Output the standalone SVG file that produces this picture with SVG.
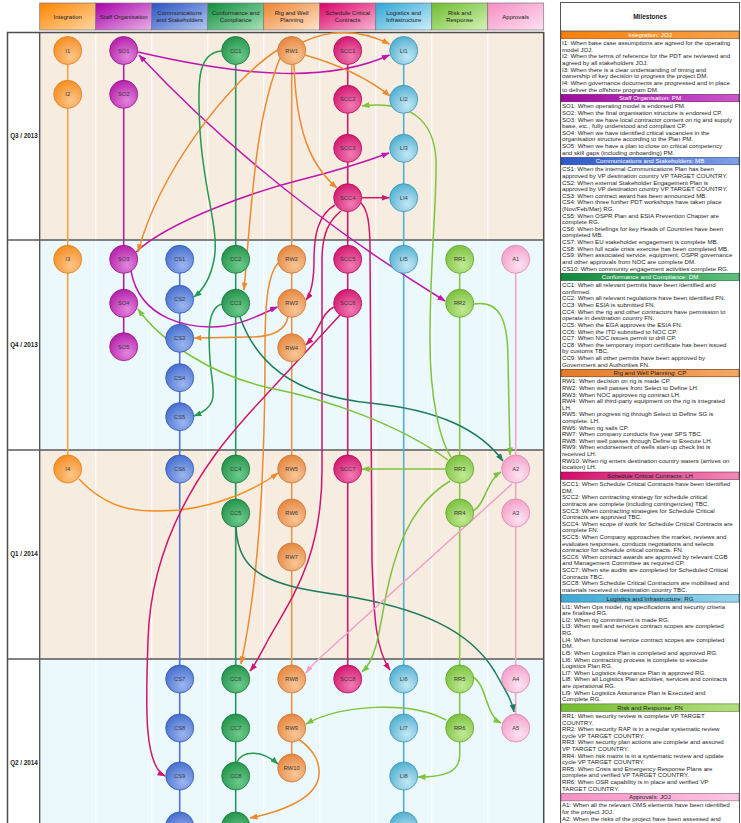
<svg xmlns="http://www.w3.org/2000/svg" width="741" height="823" viewBox="0 0 741 823">
<defs>
<style>
.hd{font-family:"Liberation Sans",Arial,sans-serif;font-size:6px;fill:#222;text-anchor:middle}
.nl{font-family:"Liberation Sans",Arial,sans-serif;font-size:5.8px;fill:#3a3a3a;text-anchor:middle}
.rl{font-family:"Liberation Sans",Arial,sans-serif;font-size:6.3px;font-weight:bold;fill:#222;text-anchor:middle}
.mt{font-family:"Liberation Sans",Arial,sans-serif;font-size:6.15px;fill:#1e1e1e}
.mb{font-family:"Liberation Sans",Arial,sans-serif;font-size:6.2px;text-anchor:middle}
.ttl{font-family:"Liberation Sans",Arial,sans-serif;font-size:6.5px;font-weight:bold;fill:#222;text-anchor:middle}
.n{stroke-width:0.8}
.tl{fill:none;stroke-width:1.6}
.c{fill:none;stroke-width:1.5}
.lane{stroke:#ffffff;stroke-width:1.3;opacity:0.85}
.hb{stroke:#7a7a7a;stroke-width:0.7}
</style>
<linearGradient id="hI" x1="0" y1="0" x2="1" y2="1"><stop offset="0" stop-color="#ff8500"/><stop offset="1" stop-color="#ffd7a6"/></linearGradient>
<linearGradient id="hSO" x1="0" y1="0" x2="1" y2="1"><stop offset="0" stop-color="#a800a8"/><stop offset="1" stop-color="#eab2ea"/></linearGradient>
<linearGradient id="hCS" x1="0" y1="0" x2="1" y2="1"><stop offset="0" stop-color="#2a52c2"/><stop offset="1" stop-color="#b4c8f2"/></linearGradient>
<linearGradient id="hCC" x1="0" y1="0" x2="1" y2="1"><stop offset="0" stop-color="#0e8c3e"/><stop offset="1" stop-color="#a8e2b8"/></linearGradient>
<linearGradient id="hRW" x1="0" y1="0" x2="1" y2="1"><stop offset="0" stop-color="#ee8430"/><stop offset="1" stop-color="#fde3cc"/></linearGradient>
<linearGradient id="hSCC" x1="0" y1="0" x2="1" y2="1"><stop offset="0" stop-color="#dc0068"/><stop offset="1" stop-color="#f8b6d4"/></linearGradient>
<linearGradient id="hLI" x1="0" y1="0" x2="1" y2="1"><stop offset="0" stop-color="#2ea6d6"/><stop offset="1" stop-color="#cdeef9"/></linearGradient>
<linearGradient id="hRR" x1="0" y1="0" x2="1" y2="1"><stop offset="0" stop-color="#6cbc2c"/><stop offset="1" stop-color="#d6f2b8"/></linearGradient>
<linearGradient id="hA" x1="0" y1="0" x2="1" y2="1"><stop offset="0" stop-color="#f68cc4"/><stop offset="1" stop-color="#fde2f0"/></linearGradient>
<linearGradient id="bI" x1="0" y1="0" x2="1" y2="0"><stop offset="0" stop-color="#f7800a"/><stop offset="1" stop-color="#f7a24a"/></linearGradient>
<linearGradient id="bSO" x1="0" y1="0" x2="1" y2="0"><stop offset="0" stop-color="#a00aa0"/><stop offset="1" stop-color="#cc55cc"/></linearGradient>
<linearGradient id="bCS" x1="0" y1="0" x2="1" y2="0"><stop offset="0" stop-color="#2e58c4"/><stop offset="1" stop-color="#7fa0e4"/></linearGradient>
<linearGradient id="bCC" x1="0" y1="0" x2="1" y2="0"><stop offset="0" stop-color="#12893e"/><stop offset="1" stop-color="#5cc07c"/></linearGradient>
<linearGradient id="bRW" x1="0" y1="0" x2="1" y2="0"><stop offset="0" stop-color="#e67a26"/><stop offset="1" stop-color="#f5a866"/></linearGradient>
<linearGradient id="bSCC" x1="0" y1="0" x2="1" y2="0"><stop offset="0" stop-color="#d80a6a"/><stop offset="1" stop-color="#f28ab8"/></linearGradient>
<linearGradient id="bLI" x1="0" y1="0" x2="1" y2="0"><stop offset="0" stop-color="#3aa8d4"/><stop offset="1" stop-color="#9ad6ee"/></linearGradient>
<linearGradient id="bRR" x1="0" y1="0" x2="1" y2="0"><stop offset="0" stop-color="#74bc30"/><stop offset="1" stop-color="#b4e07c"/></linearGradient>
<linearGradient id="bA" x1="0" y1="0" x2="1" y2="0"><stop offset="0" stop-color="#f490c4"/><stop offset="1" stop-color="#fbc6e2"/></linearGradient>
<radialGradient id="gI" cx="0.62" cy="0.72" r="0.8"><stop offset="0" stop-color="#fcc68a"/><stop offset="1" stop-color="#f5891a"/></radialGradient>
<radialGradient id="gSO" cx="0.62" cy="0.72" r="0.8"><stop offset="0" stop-color="#e286de"/><stop offset="1" stop-color="#b018a4"/></radialGradient>
<radialGradient id="gCS" cx="0.62" cy="0.72" r="0.8"><stop offset="0" stop-color="#9cb6f0"/><stop offset="1" stop-color="#3e68cc"/></radialGradient>
<radialGradient id="gCC" cx="0.62" cy="0.72" r="0.8"><stop offset="0" stop-color="#6ccb8c"/><stop offset="1" stop-color="#1e8f46"/></radialGradient>
<radialGradient id="gRW" cx="0.62" cy="0.72" r="0.8"><stop offset="0" stop-color="#f8c696"/><stop offset="1" stop-color="#e4823a"/></radialGradient>
<radialGradient id="gSCC" cx="0.62" cy="0.72" r="0.8"><stop offset="0" stop-color="#f27cb4"/><stop offset="1" stop-color="#cf0f6a"/></radialGradient>
<radialGradient id="gLI" cx="0.62" cy="0.72" r="0.8"><stop offset="0" stop-color="#c4e8f5"/><stop offset="1" stop-color="#48aacd"/></radialGradient>
<radialGradient id="gRR" cx="0.62" cy="0.72" r="0.8"><stop offset="0" stop-color="#c2ea94"/><stop offset="1" stop-color="#76be38"/></radialGradient>
<radialGradient id="gA" cx="0.62" cy="0.72" r="0.8"><stop offset="0" stop-color="#fde4f1"/><stop offset="1" stop-color="#f29ac6"/></radialGradient>
<marker id="aMag" viewBox="0 0 8 6" refX="7.5" refY="3" markerWidth="8" markerHeight="6" markerUnits="userSpaceOnUse" orient="auto-start-reverse"><path d="M0,0L8,3L0,6z" fill="#c016b0"/></marker>
<marker id="aOrg" viewBox="0 0 8 6" refX="7.5" refY="3" markerWidth="8" markerHeight="6" markerUnits="userSpaceOnUse" orient="auto"><path d="M0,0L8,3L0,6z" fill="#ec8a2e"/></marker>
<marker id="aGrn" viewBox="0 0 8 6" refX="7.5" refY="3" markerWidth="8" markerHeight="6" markerUnits="userSpaceOnUse" orient="auto"><path d="M0,0L8,3L0,6z" fill="#259a4e"/></marker>
<marker id="aDgr" viewBox="0 0 8 6" refX="7.5" refY="3" markerWidth="8" markerHeight="6" markerUnits="userSpaceOnUse" orient="auto"><path d="M0,0L8,3L0,6z" fill="#1c7c5c"/></marker>
<marker id="aCrm" viewBox="0 0 8 6" refX="7.5" refY="3" markerWidth="8" markerHeight="6" markerUnits="userSpaceOnUse" orient="auto"><path d="M0,0L8,3L0,6z" fill="#d0156e"/></marker>
<marker id="aLim" viewBox="0 0 8 6" refX="7.5" refY="3" markerWidth="8" markerHeight="6" markerUnits="userSpaceOnUse" orient="auto"><path d="M0,0L8,3L0,6z" fill="#7cc43c"/></marker>
<marker id="aPnk" viewBox="0 0 8 6" refX="7.5" refY="3" markerWidth="8" markerHeight="6" markerUnits="userSpaceOnUse" orient="auto"><path d="M0,0L8,3L0,6z" fill="#f2a0c8"/></marker>
</defs>
<rect x="0" y="0" width="741" height="823" fill="#ffffff"/>

<g id="header">
<rect class="hb" x="39.7" y="3" width="56" height="27" fill="url(#hI)"/>
<rect class="hb" x="95.7" y="3" width="56" height="27" fill="url(#hSO)"/>
<rect class="hb" x="151.7" y="3" width="56" height="27" fill="url(#hCS)"/>
<rect class="hb" x="207.7" y="3" width="56" height="27" fill="url(#hCC)"/>
<rect class="hb" x="263.7" y="3" width="56" height="27" fill="url(#hRW)"/>
<rect class="hb" x="319.7" y="3" width="56" height="27" fill="url(#hSCC)"/>
<rect class="hb" x="375.7" y="3" width="56" height="27" fill="url(#hLI)"/>
<rect class="hb" x="431.7" y="3" width="56" height="27" fill="url(#hRR)"/>
<rect class="hb" x="487.7" y="3" width="56" height="27" fill="url(#hA)"/>
<text class="hd" x="67.7" y="18.5">Integration</text>
<text class="hd" x="123.7" y="18.5">Staff Organisation</text>
<text class="hd" x="179.7" y="15">Communications</text>
<text class="hd" x="179.7" y="22">and Stakeholders</text>
<text class="hd" x="235.7" y="15">Conformance and</text>
<text class="hd" x="235.7" y="22">Compliance</text>
<text class="hd" x="291.7" y="15">Rig and Well</text>
<text class="hd" x="291.7" y="22">Planning</text>
<text class="hd" x="347.7" y="15">Schedule Critical</text>
<text class="hd" x="347.7" y="22">Contracts</text>
<text class="hd" x="403.7" y="15">Logistics and</text>
<text class="hd" x="403.7" y="22">Infrastructure</text>
<text class="hd" x="459.7" y="15">Risk and</text>
<text class="hd" x="459.7" y="22">Response</text>
<text class="hd" x="515.7" y="18.5">Approvals</text>
</g>

<g id="grid">
<rect x="39.7" y="32.5" width="504" height="207.5" fill="#f6ece0"/>
<rect x="39.7" y="240" width="504" height="210" fill="#ebf8fc"/>
<rect x="39.7" y="450" width="504" height="209" fill="#f6ece0"/>
<rect x="39.7" y="659" width="504" height="170" fill="#ebf8fc"/>
<line class="lane" x1="95.7" y1="33" x2="95.7" y2="823"/>
<line class="lane" x1="151.7" y1="33" x2="151.7" y2="823"/>
<line class="lane" x1="207.7" y1="33" x2="207.7" y2="823"/>
<line class="lane" x1="263.7" y1="33" x2="263.7" y2="823"/>
<line class="lane" x1="319.7" y1="33" x2="319.7" y2="823"/>
<line class="lane" x1="375.7" y1="33" x2="375.7" y2="823"/>
<line class="lane" x1="431.7" y1="33" x2="431.7" y2="823"/>
<line class="lane" x1="487.7" y1="33" x2="487.7" y2="823"/>
<rect x="7.5" y="32.5" width="536.2" height="800" fill="none" stroke="#4d4d4d" stroke-width="1.5"/>
<line x1="39.7" y1="32.5" x2="39.7" y2="823" stroke="#4d4d4d" stroke-width="1.3"/>
<line x1="7.5" y1="240" x2="543.7" y2="240" stroke="#5a5a5a" stroke-width="1.3"/>
<line x1="7.5" y1="450" x2="543.7" y2="450" stroke="#5a5a5a" stroke-width="1.3"/>
<line x1="7.5" y1="659" x2="543.7" y2="659" stroke="#5a5a5a" stroke-width="1.3"/>
<text class="rl" x="24" y="138">Q3 / 2013</text>
<text class="rl" x="24" y="347">Q4 / 2013</text>
<text class="rl" x="24" y="556">Q1 / 2014</text>
<text class="rl" x="24" y="765">Q2 / 2014</text>
</g>

<g id="timelines">
<line class="tl" x1="67.7" y1="50.5" x2="67.7" y2="469" stroke="#f6a045"/>
<line class="tl" x1="123.7" y1="50.5" x2="123.7" y2="346.7" stroke="#b21ea6"/>
<line class="tl" x1="179.7" y1="259.3" x2="179.7" y2="830" stroke="#4a76d2"/>
<line class="tl" x1="235.7" y1="50.5" x2="235.7" y2="830" stroke="#27975a"/>
<line class="tl" x1="291.7" y1="50.5" x2="291.7" y2="767" stroke="#e8954e"/>
<line class="tl" x1="347.7" y1="50.5" x2="347.7" y2="678" stroke="#c81c6c"/>
<line class="tl" x1="403.7" y1="50.5" x2="403.7" y2="830" stroke="#4eb0d2"/>
<line class="tl" x1="459.7" y1="259.3" x2="459.7" y2="727" stroke="#86c84a"/>
<line class="tl" x1="515.7" y1="259.3" x2="515.7" y2="727" stroke="#f0a6cc"/>
</g>

<g id="connectors">
<path class="c" stroke="#c016b0" marker-end="url(#aMag)" d="M138,52 C250,78 330,82 389.5,55"/>
<path class="c" stroke="#c016b0" marker-start="url(#aMag)" marker-end="url(#aMag)" d="M139,55 Q265,190 445,301"/>
<path class="c" stroke="#c016b0" marker-end="url(#aMag)" d="M136,252 C170,220 260,190 300,180 C340,170 370,160 389,153"/>
<path class="c" stroke="#c016b0" marker-end="url(#aMag)" d="M131,271 C140,320 190,330 225,326 C250,322 265,312 277.5,307"/>
<path class="c" stroke="#ec8a2e" marker-end="url(#aOrg)" d="M303,42 Q345,22 389.5,44"/>
<path class="c" stroke="#ec8a2e" marker-end="url(#aOrg)" d="M305,55 C340,65 370,80 390,96"/>
<path class="c" stroke="#ec8a2e" marker-end="url(#aOrg)" d="M294,64 C296,130 310,165 337,188"/>
<path class="c" stroke="#ec8a2e" marker-end="url(#aOrg)" d="M279,49 C230,80 160,170 138,252"/>
<path class="c" stroke="#ec8a2e" marker-end="url(#aOrg)" d="M280,58 C255,120 252,200 244,290"/>
<path class="c" stroke="#ec8a2e" marker-end="url(#aOrg)" d="M278,263 C268,275 265,300 265,350 C265,500 255,600 241,664"/>
<path class="c" stroke="#ec8a2e" marker-end="url(#aOrg)" d="M288,317 C285,332 270,337 250,337 L194,338"/>
<path class="c" stroke="#f39020" marker-end="url(#aOrg)" d="M79,479 C110,512 140,513 180,510 C220,505 255,490 278,473"/>
<path class="c" stroke="#ec8a2e" marker-end="url(#aOrg)" d="M298,739 C315,750 322,765 318,780 C312,800 280,812 250,818"/>
<path class="c" stroke="#259a4e" marker-end="url(#aGrn)" d="M222,51 C195,52 198,90 200,130 C203,190 220,230 214,260 C210,280 203,290 194,297"/>
<path class="c" stroke="#259a4e" marker-end="url(#aGrn)" d="M222,304 C208,308 208,330 210,360 C212,390 222,405 194,416"/>
<path class="c" stroke="#259a4e" marker-end="url(#aGrn)" d="M237,762 C243,750 262,750 278,764"/>
<path class="c" stroke="#1c7c5c" marker-end="url(#aDgr)" d="M240,317 C255,360 290,395 370,403 C440,410 480,430 503,461"/>
<path class="c" stroke="#1c7c5c" marker-end="url(#aDgr)" d="M236,527 C238,575 270,585 340,595 C420,608 470,630 495,672 C505,690 512,700 514,712"/>
<path class="c" stroke="#d0156e" marker-end="url(#aCrm)" d="M362,197.7 L389,197.7"/>
<path class="c" stroke="#d0156e" marker-end="url(#aCrm)" d="M335,205 C318,215 314,235 314,260 C314,280 312,292 306,300"/>
<path class="c" stroke="#d0156e" marker-end="url(#aCrm)" d="M341,211 C330,220 322,232 322,260 L322,470 C322,560 290,600 268,640 C260,655 255,665 250,671"/>
<path class="c" stroke="#d0156e" marker-end="url(#aCrm)" d="M361,203 C368,210 370,225 370,250 L372,560 C374,620 376,650 390,670"/>
<path class="c" stroke="#d0156e" marker-end="url(#aCrm)" d="M340,315 C290,370 240,420 215,455 C175,510 150,570 148,640 C146,700 143,765 165,776"/>
<path class="c" stroke="#d0156e" marker-end="url(#aCrm)" d="M334,307 C322,312 320,330 306,345"/>
<path class="c" stroke="#7cc43c" marker-end="url(#aLim)" d="M445,469 L362,469"/>
<path class="c" stroke="#7cc43c" marker-end="url(#aLim)" d="M473,511 C485,505 487,480 501,472"/>
<path class="c" stroke="#7cc43c" marker-end="url(#aLim)" d="M474,304 C500,300 508,320 508,360 L510,455"/>
<path class="c" stroke="#7cc43c" marker-end="url(#aLim)" d="M451,457 C440,440 430,400 430,340 C430,260 437,200 436,160 C434,120 410,100 362,106"/>
<path class="c" stroke="#7cc43c" marker-end="url(#aLim)" d="M448,460 C400,425 330,400 270,388 C210,375 160,340 138,309"/>
<path class="c" stroke="#7cc43c" marker-end="url(#aLim)" d="M450,481 C410,505 395,550 385,600 C378,640 375,660 362,672"/>
<path class="c" stroke="#7cc43c" marker-end="url(#aLim)" d="M473,677 C487,685 485,715 501,723"/>
<path class="c" stroke="#7cc43c" marker-end="url(#aLim)" d="M446,720 C410,700 340,705 306,724"/>
<path class="c" stroke="#7cc43c" marker-end="url(#aLim)" d="M459.7,741 L459.7,755 C459.7,772 445,777 418,777"/>
<path class="c" stroke="#f2a0c8" marker-end="url(#aPnk)" d="M512,484 L322,656 Q312,665 306,673"/>
</g>

<g id="n-I1"><circle class="n" cx="67.7" cy="50.5" r="14" fill="url(#gI)" stroke="#e0801c"/><text class="nl" x="67.7" y="52.6">I1</text></g>
<g id="n-I2"><circle class="n" cx="67.7" cy="94.3" r="14" fill="url(#gI)" stroke="#e0801c"/><text class="nl" x="67.7" y="96.4">I2</text></g>
<g id="n-I3"><circle class="n" cx="67.7" cy="259.3" r="14" fill="url(#gI)" stroke="#e0801c"/><text class="nl" x="67.7" y="261.4">I3</text></g>
<g id="n-I4"><circle class="n" cx="67.7" cy="469" r="14" fill="url(#gI)" stroke="#e0801c"/><text class="nl" x="67.7" y="471.1">I4</text></g>
<g id="n-SO1"><circle class="n" cx="123.7" cy="50.5" r="14" fill="url(#gSO)" stroke="#951489"/><text class="nl" x="123.7" y="52.6">SO1</text></g>
<g id="n-SO2"><circle class="n" cx="123.7" cy="94.3" r="14" fill="url(#gSO)" stroke="#951489"/><text class="nl" x="123.7" y="96.4">SO2</text></g>
<g id="n-SO3"><circle class="n" cx="123.7" cy="259.3" r="14" fill="url(#gSO)" stroke="#951489"/><text class="nl" x="123.7" y="261.4">SO3</text></g>
<g id="n-SO4"><circle class="n" cx="123.7" cy="303.3" r="14" fill="url(#gSO)" stroke="#951489"/><text class="nl" x="123.7" y="305.4">SO4</text></g>
<g id="n-SO5"><circle class="n" cx="123.7" cy="346.7" r="14" fill="url(#gSO)" stroke="#951489"/><text class="nl" x="123.7" y="348.8">SO5</text></g>
<g id="n-CS1"><circle class="n" cx="179.7" cy="259.3" r="14" fill="url(#gCS)" stroke="#3358b0"/><text class="nl" x="179.7" y="261.4">CS1</text></g>
<g id="n-CS2"><circle class="n" cx="179.7" cy="299.3" r="14" fill="url(#gCS)" stroke="#3358b0"/><text class="nl" x="179.7" y="301.4">CS2</text></g>
<g id="n-CS3"><circle class="n" cx="179.7" cy="338.3" r="14" fill="url(#gCS)" stroke="#3358b0"/><text class="nl" x="179.7" y="340.4">CS3</text></g>
<g id="n-CS4"><circle class="n" cx="179.7" cy="377.7" r="14" fill="url(#gCS)" stroke="#3358b0"/><text class="nl" x="179.7" y="379.8">CS4</text></g>
<g id="n-CS5"><circle class="n" cx="179.7" cy="416.7" r="14" fill="url(#gCS)" stroke="#3358b0"/><text class="nl" x="179.7" y="418.8">CS5</text></g>
<g id="n-CS6"><circle class="n" cx="179.7" cy="469" r="14" fill="url(#gCS)" stroke="#3358b0"/><text class="nl" x="179.7" y="471.1">CS6</text></g>
<g id="n-CS7"><circle class="n" cx="179.7" cy="679" r="14" fill="url(#gCS)" stroke="#3358b0"/><text class="nl" x="179.7" y="681.1">CS7</text></g>
<g id="n-CS8"><circle class="n" cx="179.7" cy="728" r="14" fill="url(#gCS)" stroke="#3358b0"/><text class="nl" x="179.7" y="730.1">CS8</text></g>
<g id="n-CS9"><circle class="n" cx="179.7" cy="776" r="14" fill="url(#gCS)" stroke="#3358b0"/><text class="nl" x="179.7" y="778.1">CS9</text></g>
<g id="n-CS10"><circle class="n" cx="179.7" cy="826" r="14" fill="url(#gCS)" stroke="#3358b0"/></g>
<g id="n-CC1"><circle class="n" cx="235.7" cy="50.5" r="14" fill="url(#gCC)" stroke="#17763a"/><text class="nl" x="235.7" y="52.6">CC1</text></g>
<g id="n-CC2"><circle class="n" cx="235.7" cy="259.3" r="14" fill="url(#gCC)" stroke="#17763a"/><text class="nl" x="235.7" y="261.4">CC2</text></g>
<g id="n-CC3"><circle class="n" cx="235.7" cy="303.3" r="14" fill="url(#gCC)" stroke="#17763a"/><text class="nl" x="235.7" y="305.4">CC3</text></g>
<g id="n-CC4"><circle class="n" cx="235.7" cy="469" r="14" fill="url(#gCC)" stroke="#17763a"/><text class="nl" x="235.7" y="471.1">CC4</text></g>
<g id="n-CC5"><circle class="n" cx="235.7" cy="513" r="14" fill="url(#gCC)" stroke="#17763a"/><text class="nl" x="235.7" y="515.1">CC5</text></g>
<g id="n-CC6"><circle class="n" cx="235.7" cy="679" r="14" fill="url(#gCC)" stroke="#17763a"/><text class="nl" x="235.7" y="681.1">CC6</text></g>
<g id="n-CC7"><circle class="n" cx="235.7" cy="728" r="14" fill="url(#gCC)" stroke="#17763a"/><text class="nl" x="235.7" y="730.1">CC7</text></g>
<g id="n-CC8"><circle class="n" cx="235.7" cy="776" r="14" fill="url(#gCC)" stroke="#17763a"/><text class="nl" x="235.7" y="778.1">CC8</text></g>
<g id="n-CC9"><circle class="n" cx="235.7" cy="826" r="14" fill="url(#gCC)" stroke="#17763a"/></g>
<g id="n-RW1"><circle class="n" cx="291.7" cy="50.5" r="14" fill="url(#gRW)" stroke="#cf7430"/><text class="nl" x="291.7" y="52.6">RW1</text></g>
<g id="n-RW2"><circle class="n" cx="291.7" cy="259.3" r="14" fill="url(#gRW)" stroke="#cf7430"/><text class="nl" x="291.7" y="261.4">RW2</text></g>
<g id="n-RW3"><circle class="n" cx="291.7" cy="303.3" r="14" fill="url(#gRW)" stroke="#cf7430"/><text class="nl" x="291.7" y="305.4">RW3</text></g>
<g id="n-RW4"><circle class="n" cx="291.7" cy="347.7" r="14" fill="url(#gRW)" stroke="#cf7430"/><text class="nl" x="291.7" y="349.8">RW4</text></g>
<g id="n-RW5"><circle class="n" cx="291.7" cy="469" r="14" fill="url(#gRW)" stroke="#cf7430"/><text class="nl" x="291.7" y="471.1">RW5</text></g>
<g id="n-RW6"><circle class="n" cx="291.7" cy="513" r="14" fill="url(#gRW)" stroke="#cf7430"/><text class="nl" x="291.7" y="515.1">RW6</text></g>
<g id="n-RW7"><circle class="n" cx="291.7" cy="557" r="14" fill="url(#gRW)" stroke="#cf7430"/><text class="nl" x="291.7" y="559.1">RW7</text></g>
<g id="n-RW8"><circle class="n" cx="291.7" cy="679" r="14" fill="url(#gRW)" stroke="#cf7430"/><text class="nl" x="291.7" y="681.1">RW8</text></g>
<g id="n-RW9"><circle class="n" cx="291.7" cy="728" r="14" fill="url(#gRW)" stroke="#cf7430"/><text class="nl" x="291.7" y="730.1">RW9</text></g>
<g id="n-RW10"><circle class="n" cx="291.7" cy="768" r="14" fill="url(#gRW)" stroke="#cf7430"/><text class="nl" x="291.7" y="770.1">RW10</text></g>
<g id="n-SCC1"><circle class="n" cx="347.7" cy="50.5" r="14" fill="url(#gSCC)" stroke="#b00c5a"/><text class="nl" x="347.7" y="52.6">SCC1</text></g>
<g id="n-SCC2"><circle class="n" cx="347.7" cy="99.3" r="14" fill="url(#gSCC)" stroke="#b00c5a"/><text class="nl" x="347.7" y="101.4">SCC2</text></g>
<g id="n-SCC3"><circle class="n" cx="347.7" cy="148.3" r="14" fill="url(#gSCC)" stroke="#b00c5a"/><text class="nl" x="347.7" y="150.4">SCC3</text></g>
<g id="n-SCC4"><circle class="n" cx="347.7" cy="197.7" r="14" fill="url(#gSCC)" stroke="#b00c5a"/><text class="nl" x="347.7" y="199.8">SCC4</text></g>
<g id="n-SCC5"><circle class="n" cx="347.7" cy="259.3" r="14" fill="url(#gSCC)" stroke="#b00c5a"/><text class="nl" x="347.7" y="261.4">SCC5</text></g>
<g id="n-SCC6"><circle class="n" cx="347.7" cy="303.3" r="14" fill="url(#gSCC)" stroke="#b00c5a"/><text class="nl" x="347.7" y="305.4">SCC6</text></g>
<g id="n-SCC7"><circle class="n" cx="347.7" cy="469" r="14" fill="url(#gSCC)" stroke="#b00c5a"/><text class="nl" x="347.7" y="471.1">SCC7</text></g>
<g id="n-SCC8"><circle class="n" cx="347.7" cy="679" r="14" fill="url(#gSCC)" stroke="#b00c5a"/><text class="nl" x="347.7" y="681.1">SCC8</text></g>
<g id="n-LI1"><circle class="n" cx="403.7" cy="50.5" r="14" fill="url(#gLI)" stroke="#3a96b8"/><text class="nl" x="403.7" y="52.6">LI1</text></g>
<g id="n-LI2"><circle class="n" cx="403.7" cy="99.3" r="14" fill="url(#gLI)" stroke="#3a96b8"/><text class="nl" x="403.7" y="101.4">LI2</text></g>
<g id="n-LI3"><circle class="n" cx="403.7" cy="148.3" r="14" fill="url(#gLI)" stroke="#3a96b8"/><text class="nl" x="403.7" y="150.4">LI3</text></g>
<g id="n-LI4"><circle class="n" cx="403.7" cy="197.7" r="14" fill="url(#gLI)" stroke="#3a96b8"/><text class="nl" x="403.7" y="199.8">LI4</text></g>
<g id="n-LI5"><circle class="n" cx="403.7" cy="259.3" r="14" fill="url(#gLI)" stroke="#3a96b8"/><text class="nl" x="403.7" y="261.4">LI5</text></g>
<g id="n-LI6"><circle class="n" cx="403.7" cy="679" r="14" fill="url(#gLI)" stroke="#3a96b8"/><text class="nl" x="403.7" y="681.1">LI6</text></g>
<g id="n-LI7"><circle class="n" cx="403.7" cy="728" r="14" fill="url(#gLI)" stroke="#3a96b8"/><text class="nl" x="403.7" y="730.1">LI7</text></g>
<g id="n-LI8"><circle class="n" cx="403.7" cy="776" r="14" fill="url(#gLI)" stroke="#3a96b8"/><text class="nl" x="403.7" y="778.1">LI8</text></g>
<g id="n-LI9"><circle class="n" cx="403.7" cy="826" r="14" fill="url(#gLI)" stroke="#3a96b8"/></g>
<g id="n-RR1"><circle class="n" cx="459.7" cy="259.3" r="14" fill="url(#gRR)" stroke="#62a42c"/><text class="nl" x="459.7" y="261.4">RR1</text></g>
<g id="n-RR2"><circle class="n" cx="459.7" cy="303.3" r="14" fill="url(#gRR)" stroke="#62a42c"/><text class="nl" x="459.7" y="305.4">RR2</text></g>
<g id="n-RR3"><circle class="n" cx="459.7" cy="469" r="14" fill="url(#gRR)" stroke="#62a42c"/><text class="nl" x="459.7" y="471.1">RR3</text></g>
<g id="n-RR4"><circle class="n" cx="459.7" cy="513" r="14" fill="url(#gRR)" stroke="#62a42c"/><text class="nl" x="459.7" y="515.1">RR4</text></g>
<g id="n-RR5"><circle class="n" cx="459.7" cy="679" r="14" fill="url(#gRR)" stroke="#62a42c"/><text class="nl" x="459.7" y="681.1">RR5</text></g>
<g id="n-RR6"><circle class="n" cx="459.7" cy="728" r="14" fill="url(#gRR)" stroke="#62a42c"/><text class="nl" x="459.7" y="730.1">RR6</text></g>
<g id="n-A1"><circle class="n" cx="515.7" cy="259.3" r="14" fill="url(#gA)" stroke="#e084b4"/><text class="nl" x="515.7" y="261.4">A1</text></g>
<g id="n-A2"><circle class="n" cx="515.7" cy="469" r="14" fill="url(#gA)" stroke="#e084b4"/><text class="nl" x="515.7" y="471.1">A2</text></g>
<g id="n-A3"><circle class="n" cx="515.7" cy="513" r="14" fill="url(#gA)" stroke="#e084b4"/><text class="nl" x="515.7" y="515.1">A3</text></g>
<g id="n-A4"><circle class="n" cx="515.7" cy="679" r="14" fill="url(#gA)" stroke="#e084b4"/><text class="nl" x="515.7" y="681.1">A4</text></g>
<g id="n-A5"><circle class="n" cx="515.7" cy="728" r="14" fill="url(#gA)" stroke="#e084b4"/><text class="nl" x="515.7" y="730.1">A5</text></g>

<g id="milestones">
<rect x="560.5" y="2.5" width="179" height="830" fill="#ffffff" stroke="#555" stroke-width="1"/>
<line x1="560.5" y1="31" x2="739.5" y2="31" stroke="#555" stroke-width="0.8"/>
<text class="ttl" x="650" y="19">Milestones</text>
<g id="bars">
<rect x="561" y="31.3" width="178" height="7.5" fill="url(#bI)" stroke="#6a4a20" stroke-width="0.5"/>
<text class="mb" x="650" y="37.3" fill="#fff">Integration: JOJ</text>
<rect x="561" y="94.3" width="178" height="7.5" fill="url(#bSO)" stroke="#4a1a4a" stroke-width="0.5"/>
<text class="mb" x="650" y="100.3" fill="#fff">Staff Organisation: PM</text>
<rect x="561" y="157.3" width="178" height="7.5" fill="url(#bCS)" stroke="#223a7a" stroke-width="0.5"/>
<text class="mb" x="650" y="163.3" fill="#fff">Communications and Stakeholders: MB</text>
<rect x="561" y="273.2" width="178" height="7.5" fill="url(#bCC)" stroke="#1a4a2a" stroke-width="0.5"/>
<text class="mb" x="650" y="279.2" fill="#fff">Conformance and Compliance: DM</text>
<rect x="561" y="369.3" width="178" height="7.5" fill="url(#bRW)" stroke="#5a3010" stroke-width="0.6"/>
<text class="mb" x="650" y="375.3" fill="#222">Rig and Well Planning: CP</text>
<rect x="561" y="472" width="178" height="7.5" fill="url(#bSCC)" stroke="#5a1030" stroke-width="0.5"/>
<text class="mb" x="650" y="478" fill="#222">Schedule Critical Contracts: LH</text>
<rect x="561" y="594.6" width="178" height="7.5" fill="url(#bLI)" stroke="#1a4a5a" stroke-width="0.5"/>
<text class="mb" x="650" y="600.6" fill="#222">Logistics and Infrastructure: RG</text>
<rect x="561" y="703.9" width="178" height="7.5" fill="url(#bRR)" stroke="#3a5a1a" stroke-width="0.5"/>
<text class="mb" x="650" y="709.9" fill="#222">Risk and Response: FN</text>
<rect x="561" y="793.4" width="178" height="7.5" fill="url(#bA)" stroke="#7a4a60" stroke-width="0.5"/>
<text class="mb" x="650" y="799.4" fill="#222">Approvals: JOJ</text>
</g>
<g id="mtext">
<text class="mt" x="562" y="45.25">I1: When base case assumptions are agreed for the operating</text>
<text class="mt" x="562" y="51.87">model JOJ.</text>
<text class="mt" x="562" y="58.48">I2: When the terms of reference for the PDT are reviewed and</text>
<text class="mt" x="562" y="65.1">agreed by all stakeholders JOJ.</text>
<text class="mt" x="562" y="71.71">I3: When there is a clear understanding of timing and</text>
<text class="mt" x="562" y="78.33">ownership of key decision to progress the project DM.</text>
<text class="mt" x="562" y="84.94">I4: When governance documents are progressed and in place</text>
<text class="mt" x="562" y="91.56">to deliver the offshore program DM.</text>
<text class="mt" x="562" y="108.27">SO1: When operating model is endorsed PM.</text>
<text class="mt" x="562" y="114.89">SO2: When the final organisation structure is endorsed CP.</text>
<text class="mt" x="562" y="121.5">SO3: When we have local contractor content on rig and supply</text>
<text class="mt" x="562" y="128.12">base, etc., fully understood and compliant CP.</text>
<text class="mt" x="562" y="134.73">SO4: When we have identified critical vacancies in the</text>
<text class="mt" x="562" y="141.35">organisation structure according to the Plan PM.</text>
<text class="mt" x="562" y="147.96">SO5: When we have a plan to close on critical competency</text>
<text class="mt" x="562" y="154.58">and skill gaps (including onboarding) PM.</text>
<text class="mt" x="562" y="171.29">CS1: When the internal Communications Plan has been</text>
<text class="mt" x="562" y="177.91">approved by VP destination country VP TARGET COUNTRY.</text>
<text class="mt" x="562" y="184.52">CS2: When external Stakeholder Engagement Plan is</text>
<text class="mt" x="562" y="191.14">approved by VP destination country VP TARGET COUNTRY.</text>
<text class="mt" x="562" y="197.75">CS3: When contract award has been announced MB.</text>
<text class="mt" x="562" y="204.37">CS4: When three further PDT workshops have taken place</text>
<text class="mt" x="562" y="210.98">(Nov/Feb/Mar) RG.</text>
<text class="mt" x="562" y="217.6">CS5: When OSPR Plan and ESIA Prevention Chapter are</text>
<text class="mt" x="562" y="224.21">complete RG.</text>
<text class="mt" x="562" y="230.83">CS6: When briefings for key Heads of Countries have been</text>
<text class="mt" x="562" y="237.44">completed MB.</text>
<text class="mt" x="562" y="244.06">CS7: When EU stakeholder engagement is complete MB.</text>
<text class="mt" x="562" y="250.67">CS8: When full scale crisis exercise has been completed MB.</text>
<text class="mt" x="562" y="257.29">CS9: When associated service, equipment, OSPR governance</text>
<text class="mt" x="562" y="263.9">and other approvals from NOC are complete DM.</text>
<text class="mt" x="562" y="270.52">CS10: When community engagement activities complete  RG.</text>
<text class="mt" x="562" y="287.23">CC1: When all relevant permits have been identified and</text>
<text class="mt" x="562" y="293.85">confirmed.</text>
<text class="mt" x="562" y="300.46">CC2: When all relevant regulations have been identified FN.</text>
<text class="mt" x="562" y="307.08">CC3: When ESIA is submitted FN.</text>
<text class="mt" x="562" y="313.69">CC4: When the rig and other contractors have permission to</text>
<text class="mt" x="562" y="320.31">operate in destination country FN.</text>
<text class="mt" x="562" y="326.92">CC5: When the EGA approves the ESIA FN.</text>
<text class="mt" x="562" y="333.54">CC6: When the ITD submitted to NOC CP.</text>
<text class="mt" x="562" y="340.15">CC7: When NOC issues permit to drill CP.</text>
<text class="mt" x="562" y="346.77">CC8: When the temporary import certificate has been issued</text>
<text class="mt" x="562" y="353.38">by customs TBC.</text>
<text class="mt" x="562" y="360">CC9: When all other permits have been approved by</text>
<text class="mt" x="562" y="366.61">Government and Authorities FN.</text>
<text class="mt" x="562" y="383.33">RW1: When decision on rig is made  CP.</text>
<text class="mt" x="562" y="389.95">RW2: When well passes from Select to Define LH.</text>
<text class="mt" x="562" y="396.56">RW3: When NOC approves rig contract  LH.</text>
<text class="mt" x="562" y="403.18">RW4: When all third-party equipment on the rig is integrated</text>
<text class="mt" x="562" y="409.79">LH.</text>
<text class="mt" x="562" y="416.41">RW5: When progress rig through Select to Define SG is</text>
<text class="mt" x="562" y="423.02">complete.  LH.</text>
<text class="mt" x="562" y="429.64">RW6: When rig sails CP.</text>
<text class="mt" x="562" y="436.25">RW7: When company conducts five year SPS TBC.</text>
<text class="mt" x="562" y="442.87">RW8: When well passes through Define to Execute LH.</text>
<text class="mt" x="562" y="449.48">RW9: When endorsement of wells start-up check list is</text>
<text class="mt" x="562" y="456.1">received  LH.</text>
<text class="mt" x="562" y="462.71">RW10: When rig enters destination country waters (arrives on</text>
<text class="mt" x="562" y="469.33">location)  LH.</text>
<text class="mt" x="562" y="486.04">SCC1: When Schedule Critical Contracts have been identified</text>
<text class="mt" x="562" y="492.66">DM.</text>
<text class="mt" x="562" y="499.27">SCC2: When contracting strategy for schedule critical</text>
<text class="mt" x="562" y="505.89">contracts are complete (including contingencies) TBC.</text>
<text class="mt" x="562" y="512.5">SCC3: When contracting strategies for Schedule Critical</text>
<text class="mt" x="562" y="519.12">Contracts are approved TBC.</text>
<text class="mt" x="562" y="525.73">SCC4: When scope of work for Schedule Critical Contracts are</text>
<text class="mt" x="562" y="532.35">complete FN.</text>
<text class="mt" x="562" y="538.96">SCC5: When Company approaches the market, reviews and</text>
<text class="mt" x="562" y="545.58">evaluates responses, conducts negotiations and selects</text>
<text class="mt" x="562" y="552.19">contractor for schedule critical contracts. FN.</text>
<text class="mt" x="562" y="558.81">SCC6: When contract awards are approved by relevant CGB</text>
<text class="mt" x="562" y="565.42">and Management Committee as required CP.</text>
<text class="mt" x="562" y="572.04">SCC7: When site audits are completed for Scheduled Critical</text>
<text class="mt" x="562" y="578.65">Contracts TBC.</text>
<text class="mt" x="562" y="585.27">SCC8: When Schedule Critical Contractors are mobilised and</text>
<text class="mt" x="562" y="591.88">materials received in destination country TBC.</text>
<text class="mt" x="562" y="608.6">LI1: When Ops model, rig specifications and security criteria</text>
<text class="mt" x="562" y="615.22">are finalised  RG.</text>
<text class="mt" x="562" y="621.83">LI2: When rig commitment is made RG.</text>
<text class="mt" x="562" y="628.45">LI3: When well and services contract scopes are completed</text>
<text class="mt" x="562" y="635.06">RG.</text>
<text class="mt" x="562" y="641.68">LI4: When functional service contract scopes are completed</text>
<text class="mt" x="562" y="648.29">DM.</text>
<text class="mt" x="562" y="654.91">LI5: When Logistics Plan is completed and approved RG.</text>
<text class="mt" x="562" y="661.52">LI6: When contracting process is complete to execute</text>
<text class="mt" x="562" y="668.14">Logistics Plan RG.</text>
<text class="mt" x="562" y="674.75">LI7: When Logistics Assurance Plan is approved RG.</text>
<text class="mt" x="562" y="681.37">LI8: When all Logistics Plan activities, services and contracts</text>
<text class="mt" x="562" y="687.98">are operational RG.</text>
<text class="mt" x="562" y="694.6">LI9: When Logistics Assurance Plan is Executed and</text>
<text class="mt" x="562" y="701.21">Complete  RG.</text>
<text class="mt" x="562" y="717.93">RR1: When security review is complete  VP TARGET</text>
<text class="mt" x="562" y="724.55">COUNTRY.</text>
<text class="mt" x="562" y="731.16">RR2: When security RAP is in a regular systematic review</text>
<text class="mt" x="562" y="737.78">cycle  VP TARGET COUNTRY.</text>
<text class="mt" x="562" y="744.39">RR3: When security plan actions are complete and assured</text>
<text class="mt" x="562" y="751.01">VP TARGET COUNTRY.</text>
<text class="mt" x="562" y="757.62">RR4: When risk matrix is in a systematic review and update</text>
<text class="mt" x="562" y="764.24">cycle VP TARGET COUNTRY.</text>
<text class="mt" x="562" y="770.85">RR5: When Crisis and Emergency Response Plans are</text>
<text class="mt" x="562" y="777.47">complete and verified VP TARGET COUNTRY.</text>
<text class="mt" x="562" y="784.08">RR6: When OSR capability is in place and verified VP</text>
<text class="mt" x="562" y="790.7">TARGET COUNTRY.</text>
<text class="mt" x="562" y="807.41">A1: When all the relevant OMS elements have been identified</text>
<text class="mt" x="562" y="814.03">for the project  JOJ.</text>
<text class="mt" x="562" y="820.64">A2: When the risks of the project have been assessed and</text>
</g>
</g>
</svg>
